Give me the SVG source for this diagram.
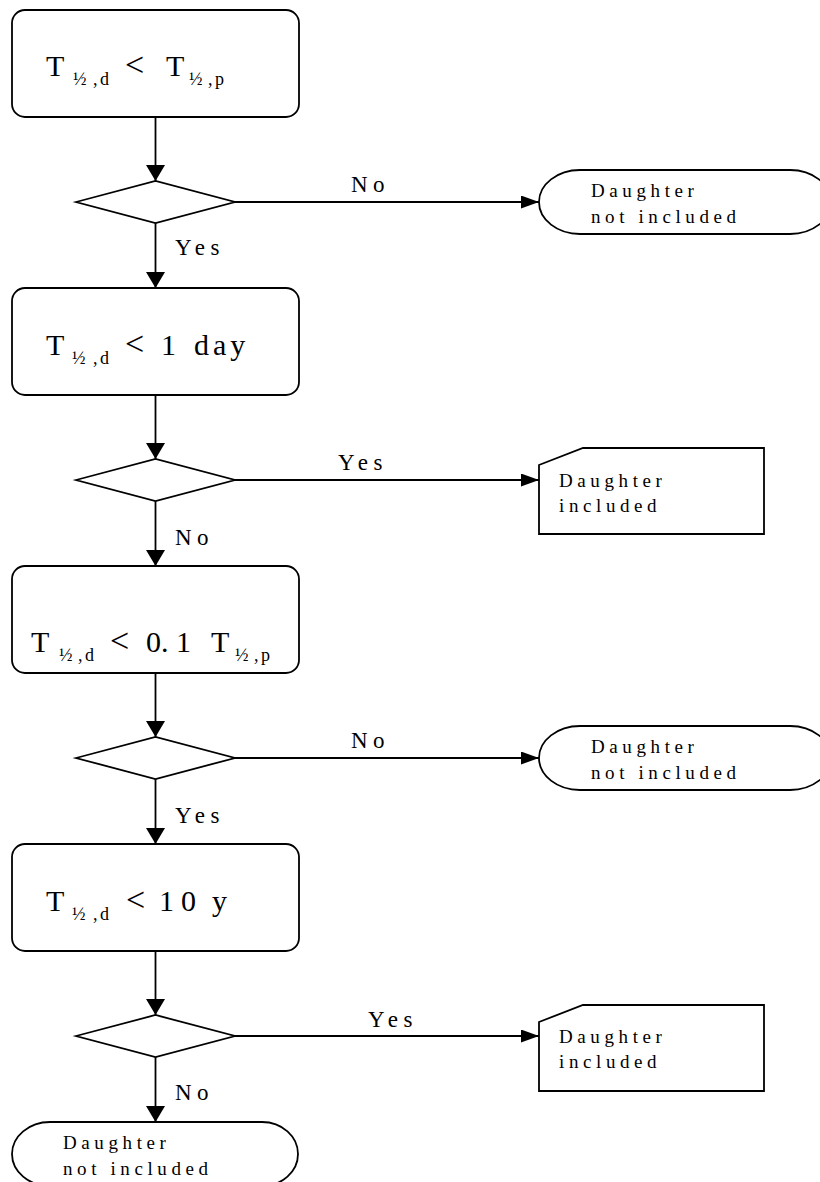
<svg xmlns="http://www.w3.org/2000/svg" width="820" height="1182" viewBox="0 0 820 1182">
<style>
.s{fill:#fff;stroke:#000;stroke-width:1.8}
.c{fill:none;stroke:#000;stroke-width:1.8}
text{font-family:"Liberation Serif","Times New Roman",serif;fill:#000}
.f{font-size:30px}
.lt{font-size:34px}
.sub{font-size:18px;letter-spacing:2.5px}
.lb{font-size:23px;letter-spacing:5.5px}
.t{font-size:19px;letter-spacing:4.6px}
</style>
<defs>
<marker id="av" markerUnits="userSpaceOnUse" markerWidth="20" markerHeight="20" refX="16" refY="9.5" orient="auto">
<path d="M0,0 L16,9.5 L0,19 Z" fill="#000"/>
</marker>
<marker id="ah" markerUnits="userSpaceOnUse" markerWidth="20" markerHeight="14" refX="18" refY="6.5" orient="auto">
<path d="M0,0 L18,6.5 L0,13 Z" fill="#000"/>
</marker>
</defs>
<rect width="820" height="1182" fill="#fff"/>
<g id="connectors">
<line class="c" x1="155.5" y1="117" x2="155.5" y2="181" marker-end="url(#av)"/>
<line class="c" x1="155.5" y1="223" x2="155.5" y2="288" marker-end="url(#av)"/>
<line class="c" x1="155.5" y1="395" x2="155.5" y2="459" marker-end="url(#av)"/>
<line class="c" x1="155.5" y1="501" x2="155.5" y2="566" marker-end="url(#av)"/>
<line class="c" x1="155.5" y1="673" x2="155.5" y2="737" marker-end="url(#av)"/>
<line class="c" x1="155.5" y1="779" x2="155.5" y2="844" marker-end="url(#av)"/>
<line class="c" x1="155.5" y1="951" x2="155.5" y2="1015" marker-end="url(#av)"/>
<line class="c" x1="155.5" y1="1057" x2="155.5" y2="1122" marker-end="url(#av)"/>
<line class="c" x1="235" y1="202" x2="539" y2="202" marker-end="url(#ah)"/>
<line class="c" x1="235" y1="480" x2="539" y2="480" marker-end="url(#ah)"/>
<line class="c" x1="235" y1="758" x2="539" y2="758" marker-end="url(#ah)"/>
<line class="c" x1="235" y1="1036" x2="539" y2="1036" marker-end="url(#ah)"/>
<text class="lb" x="351" y="192">No</text>
<text class="lb" x="175" y="255">Yes</text>
<text class="lb" x="338" y="470">Yes</text>
<text class="lb" x="175" y="545">No</text>
<text class="lb" x="351" y="748">No</text>
<text class="lb" x="175" y="823">Yes</text>
<text class="lb" x="368" y="1027">Yes</text>
<text class="lb" x="175" y="1100">No</text>
</g>
<g id="box1">
<rect class="s" x="12" y="10" width="287" height="107" rx="13"/>
<text class="f" y="76"><tspan x="46">T</tspan><tspan class="sub" x="73" y="85">½</tspan><tspan class="sub" x="93" y="85">,d</tspan><tspan class="lt" x="125" y="76">&lt;</tspan><tspan x="166">T</tspan><tspan class="sub" x="189" y="85">½</tspan><tspan class="sub" x="208" y="85">,p</tspan></text>
</g>
<g id="dec1"><polygon class="s" points="76,202 155.5,181 235,202 155.5,223"/></g>
<g id="end1">
<path class="s" d="M580,170 H790 A41,32 0 0 1 790,234 H580 A41,32 0 0 1 580,170 Z"/>
<text class="t" x="591" y="197">Daughter</text>
<text class="t" x="591" y="223">not included</text>
</g>
<g id="box2">
<rect class="s" x="12" y="288" width="287" height="107" rx="13"/>
<text class="f" y="355"><tspan x="46">T</tspan><tspan class="sub" x="72" y="364">½</tspan><tspan class="sub" x="93" y="364">,d</tspan><tspan class="lt" x="125" y="355">&lt;</tspan><tspan x="161">1</tspan><tspan x="194" style="letter-spacing:4px">day</tspan></text>
</g>
<g id="dec2"><polygon class="s" points="76,480 155.5,459 235,480 155.5,501"/></g>
<g id="end2">
<path class="s" d="M539,465 L583,448 H764 V534 H539 Z"/>
<text class="t" x="559" y="487">Daughter</text>
<text class="t" x="559" y="512">included</text>
</g>
<g id="box3">
<rect class="s" x="12" y="566" width="287" height="107" rx="13"/>
<text class="f" y="652"><tspan x="31">T</tspan><tspan class="sub" x="59" y="661">½</tspan><tspan class="sub" x="78" y="661">,d</tspan><tspan class="lt" x="110" y="652">&lt;</tspan><tspan x="146">0</tspan><tspan x="161">.</tspan><tspan x="176">1</tspan><tspan x="211">T</tspan><tspan class="sub" x="235" y="661">½</tspan><tspan class="sub" x="254" y="661">,p</tspan></text>
</g>
<g id="dec3"><polygon class="s" points="76,758 155.5,737 235,758 155.5,779"/></g>
<g id="end3">
<path class="s" d="M580,726 H790 A41,32 0 0 1 790,790 H580 A41,32 0 0 1 580,726 Z"/>
<text class="t" x="591" y="753">Daughter</text>
<text class="t" x="591" y="779">not included</text>
</g>
<g id="box4">
<rect class="s" x="12" y="844" width="287" height="107" rx="13"/>
<text class="f" y="911"><tspan x="46">T</tspan><tspan class="sub" x="72" y="920">½</tspan><tspan class="sub" x="93" y="920">,d</tspan><tspan class="lt" x="126" y="911">&lt;</tspan><tspan x="159">1</tspan><tspan x="181">0</tspan><tspan x="212">y</tspan></text>
</g>
<g id="dec4"><polygon class="s" points="76,1036 155.5,1015 235,1036 155.5,1057"/></g>
<g id="end4">
<path class="s" d="M539,1022 L583,1005 H764 V1091 H539 Z"/>
<text class="t" x="559" y="1043">Daughter</text>
<text class="t" x="559" y="1068">included</text>
</g>
<g id="end5">
<path class="s" d="M50,1122 H262 A36,32 0 0 1 262,1186 H50 A38,32 0 0 1 50,1122 Z"/>
<text class="t" x="63" y="1149">Daughter</text>
<text class="t" x="63" y="1175">not included</text>
</g>
</svg>
